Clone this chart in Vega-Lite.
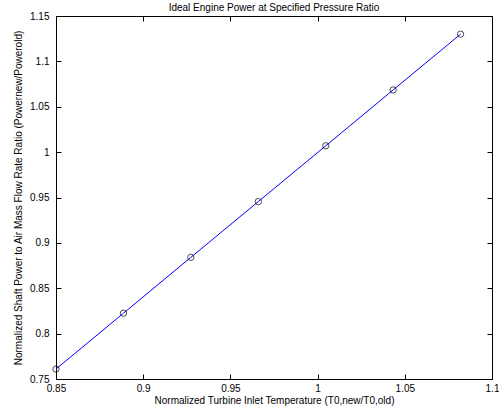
{
  "$schema": "https://vega.github.io/schema/vega-lite/v6.json",
  "autosize": "none",
  "width": 436,
  "height": 363,
  "padding": {"left": 56, "top": 16, "right": 7, "bottom": 37},
  "background": "white",
  "config": {
    "font": "Liberation Sans",
    "view": {"stroke": "black", "strokeWidth": 1},
    "axis": {
      "grid": false,
      "domain": true,
      "domainOpacity": 0,
      "ticks": true,
      "tickSize": 5,
      "tickWidth": 1,
      "tickColor": "black",
      "offset": -5,
      "labelColor": "black",
      "labelFont": "Liberation Sans",
      "labelFontSize": 10,
      "titleFont": "Liberation Sans",
      "titleFontSize": 10,
      "titleFontWeight": "normal",
      "titleColor": "black"
    }
  },
  "title": {
    "text": "Ideal Engine Power at Specified Pressure Ratio",
    "font": "Liberation Sans",
    "fontSize": 10,
    "fontWeight": "normal",
    "color": "black",
    "offset": -2
  },
  "data": {
    "values": [
      {"t": 0.85, "p": 0.761},
      {"t": 0.8887, "p": 0.8225},
      {"t": 0.9273, "p": 0.884},
      {"t": 0.966, "p": 0.9455},
      {"t": 1.0047, "p": 1.007},
      {"t": 1.0433, "p": 1.0685},
      {"t": 1.082, "p": 1.13}
    ]
  },
  "layer": [
    {
      "mark": {"type": "line", "color": "#0000ff", "strokeWidth": 1},
      "encoding": {
        "x": {
          "field": "t", "type": "quantitative",
          "scale": {"domain": [0.85, 1.1], "nice": false, "zero": false},
          "axis": {"tickCount": 5, "format": "~g", "labelPadding": 4, "labelFlush": false,
                   "title": "Normalized Turbine Inlet Temperature (T0,new/T0,old)", "titlePadding": 2}
        },
        "y": {
          "field": "p", "type": "quantitative",
          "scale": {"domain": [0.75, 1.15], "nice": false, "zero": false},
          "axis": {"tickCount": 8, "format": "~g", "labelPadding": 7, "labelFlush": false,
                   "title": "Normalized Shaft Power to Air Mass Flow Rate Ratio (Powernew/Powerold)", "titlePadding": 6}
        }
      }
    },
    {
      "mark": {"type": "point", "shape": "circle", "filled": false, "color": "black", "size": 40, "strokeWidth": 1},
      "encoding": {
        "x": {
          "field": "t", "type": "quantitative",
          "axis": {"orient": "top", "tickCount": 5, "labels": false, "title": null}
        },
        "y": {
          "field": "p", "type": "quantitative",
          "axis": {"orient": "right", "tickCount": 8, "labels": false, "title": null}
        }
      }
    }
  ],
  "resolve": {"axis": {"x": "independent", "y": "independent"}}
}
